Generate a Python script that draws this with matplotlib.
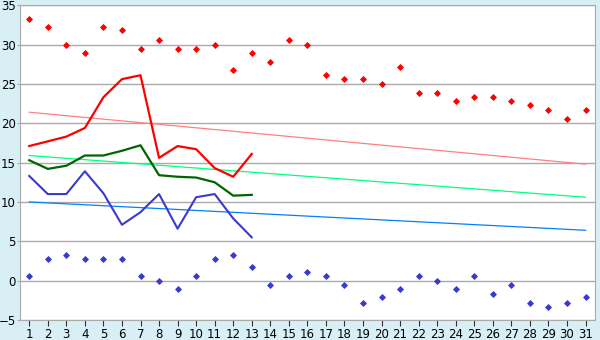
import matplotlib
matplotlib.use("Agg")
import matplotlib.pyplot as plt

# ---------------- data ---------------- #
days = list(range(1, 32))
max_pts = [33.3, 32.2, 30.0, 28.9, 32.2, 31.8, 29.4, 30.6, 29.4, 29.4,
           30.0, 26.7, 28.9, 27.8, 30.6, 30.0, 26.1, 25.6, 25.6, 25.0,
           27.2, 23.9, 23.9, 22.8, 23.3, 23.3, 22.8, 22.3, 21.7, 20.6, 21.7]
min_pts = [0.6, 2.8, 3.3, 2.8, 2.8, 2.8, 0.6, 0.0, -1.1, 0.6,
           2.8, 3.3, 1.7, -0.6, 0.6, 1.1, 0.6, -0.6, -2.8, -2.1,
           -1.1, 0.6, 0.0, -1.1, 0.6, -1.7, -0.6, -2.8, -3.3, -2.8, -2.1]

days_obs = list(range(1, 14))
obs_max = [17.1, 17.7, 18.3, 19.4, 23.3, 25.6, 26.1, 15.6, 17.1, 16.7, 14.3, 13.2, 16.1]
obs_mean = [15.3, 14.2, 14.6, 15.9, 15.9, 16.5, 17.2, 13.4, 13.2, 13.1, 12.5, 10.8, 10.9]
obs_min = [13.3, 11.0, 11.0, 13.9, 11.1, 7.1, 8.7, 11.0, 6.6, 10.6, 11.0, 7.9, 5.5]

trend_days = [1, 31]
trend_max = [21.4, 14.8]
trend_mean = [15.9, 10.6]
trend_min = [10.0, 6.4]

# ---------------- plot ---------------- #
fig = plt.figure(figsize=(6, 3.4), dpi=100, facecolor="#d9eff6")
ax = fig.add_axes([0.0333, 0.0588, 0.958, 0.926])
ax.set_facecolor("white")

ax.plot(trend_days, trend_max, color="#ff8080", lw=0.9)
ax.plot(trend_days, trend_mean, color="#00ff80", lw=0.9)
ax.plot(trend_days, trend_min, color="#0080ff", lw=0.9)

ax.plot(days, max_pts, ls="none", marker="D", ms=3.0, mew=0.6, color="#ff0000")
ax.plot(days, min_pts, ls="none", marker="D", ms=3.0, mew=0.6, color="#3a3acc")

ax.plot(days_obs, obs_max, color="#ff0000", lw=1.6)
ax.plot(days_obs, obs_mean, color="#006400", lw=1.6)
ax.plot(days_obs, obs_min, color="#3a3acc", lw=1.5)

ax.set_xlim(0.5, 31.5)
ax.set_ylim(-5, 35)
ax.set_xticks(days)
ax.set_yticks(range(-5, 36, 5))
ax.grid(axis="y", color="#aaaaaa", lw=1)
ax.set_axisbelow(True)
for s in ax.spines.values():
    s.set_color("#aaaaaa")
ax.tick_params(axis="x", length=4, color="#333333", labelsize=8.5, pad=2)
ax.tick_params(axis="y", length=2, color="#aaaaaa", labelsize=8.5, pad=1)

fig.savefig("out.png", dpi=100, facecolor=fig.get_facecolor())
